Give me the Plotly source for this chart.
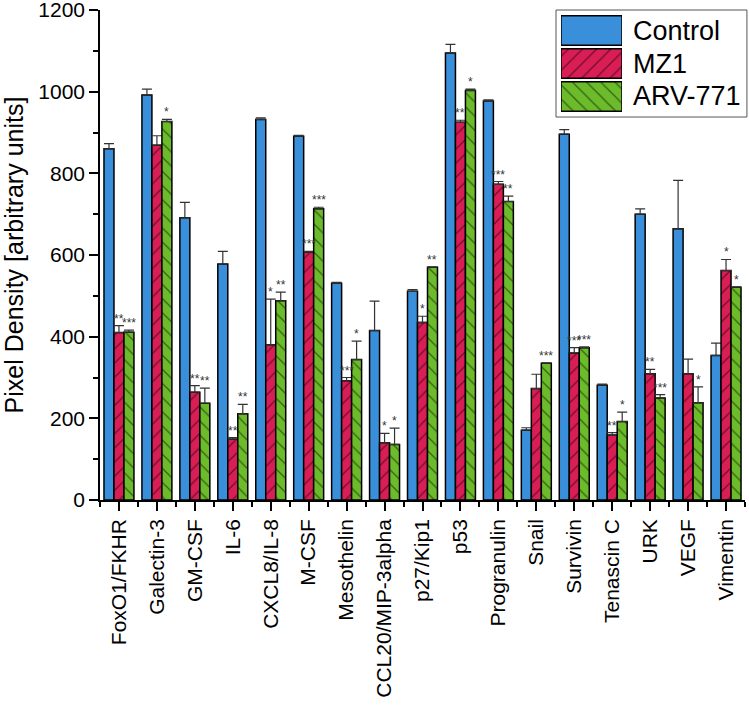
import plotly.graph_objects as go

categories = ["FoxO1/FKHR", "Galectin-3", "GM-CSF", "IL-6", "CXCL8/IL-8", "M-CSF",
              "Mesothelin", "CCL20/MIP-3alpha", "p27/Kip1", "p53", "Progranulin",
              "Snail", "Survivin", "Tenascin C", "URK", "VEGF", "Vimentin"]

control = [860, 992, 691, 578, 932, 891, 531, 415, 511, 1095, 977, 171, 896, 281, 700, 664, 354]
control_err = [13, 14, 38, 31, 4, 2, 2, 72, 4, 21, 3, 6, 11, 3, 13, 119, 30]

mz1 = [410, 869, 264, 149, 380, 607, 292, 140, 435, 925, 773, 273, 360, 159, 309, 309, 562]
mz1_err = [17, 23, 16, 4, 112, 2, 8, 23, 15, 5, 7, 35, 13, 6, 11, 36, 27]
mz1_sig = ["**", "", "**", "**", "*", "***", "***", "*", "*", "**", "***", "", "***", "**", "**", "", "*"]

arv = [411, 927, 237, 211, 488, 713, 344, 136, 570, 1003, 731, 335, 373, 192, 250, 238, 521]
arv_err = [5, 5, 37, 23, 21, 4, 45, 40, 1, 3, 13, 1, 2, 23, 8, 39, 1]
arv_sig = ["***", "*", "**", "**", "**", "***", "*", "*", "**", "*", "**", "***", "***", "*", "***", "*", "*"]

series_names = ["Control", "MZ1", "ARV-771"]
colors = ["#3A8FDA", "#D91D55", "#6BBB2A"]
shapes_pat = ["", "/", "\\"]

FONT = "Liberation Sans, Arial, sans-serif"
n = len(categories)
xs = list(range(n))
BARGAP = 0.21
w = (1 - BARGAP) / 3

fig = go.Figure()
data = [(control, control_err), (mz1, mz1_err), (arv, arv_err)]
for k, (vals, errs) in enumerate(data):
    fig.add_trace(go.Bar(
        x=xs, y=vals, name=series_names[k], showlegend=False,
        marker=dict(color=colors[k], line=dict(color="black", width=1.5),
                    pattern=dict(shape=shapes_pat[k], fgcolor="black", bgcolor=colors[k],
                                 size=10, solidity=0.12)),
        error_y=dict(type="data", symmetric=False, array=errs, arrayminus=[0] * n,
                     color="#333333", thickness=1.2, width=5),
    ))

annotations = []
for k, (vals, errs, sigs) in enumerate([(mz1, mz1_err, mz1_sig), (arv, arv_err, arv_sig)]):
    off = w * (k + 1) - w
    for i in range(n):
        if sigs[i]:
            annotations.append(dict(
                x=i + off, y=vals[i] + errs[i], xref="x", yref="y",
                text=sigs[i], showarrow=False, yanchor="bottom", yshift=-2,
                font=dict(family=FONT, size=12, color="#333333"),
            ))

# legend swatches drawn on an inset axis
for k in range(3):
    fig.add_trace(go.Bar(
        x=[1], y=[k], orientation="h", xaxis="x2", yaxis="y2", showlegend=False,
        width=0.9, offset=-0.45, hoverinfo="skip",
        marker=dict(color=colors[k], line=dict(color="black", width=1.5),
                    pattern=dict(shape=shapes_pat[k], fgcolor="black", bgcolor=colors[k],
                                 size=10, solidity=0.12)),
    ))
    annotations.append(dict(
        x=0.823, y=k, xref="paper", yref="y2", text=series_names[k], showarrow=False,
        xanchor="left", yanchor="middle", font=dict(family=FONT, size=27, color="black"),
    ))

fig.update_layout(
    width=749, height=708,
    margin=dict(l=100, r=4, t=10, b=208, autoexpand=False),
    paper_bgcolor="white", plot_bgcolor="white",
    barmode="group", bargap=BARGAP, bargroupgap=0,
    font=dict(family=FONT, color="black"),
    annotations=annotations,
    xaxis=dict(
        range=[-0.5, 16.5], tickmode="array", tickvals=xs, ticktext=categories,
        tickangle=-90, tickfont=dict(size=21, family=FONT), automargin=False,
        showline=True, linecolor="black", linewidth=1.5, ticks="outside",
        ticklen=9, tickwidth=1.5, tickcolor="black", showgrid=False, zeroline=False,
        minor=dict(tickmode="linear", tick0=0.5, dtick=1, ticklen=5, tickwidth=1.5,
                   tickcolor="black", ticks="outside", showgrid=False),
    ),
    yaxis=dict(
        range=[0, 1200], tickmode="array", tickvals=[0, 200, 400, 600, 800, 1000, 1200],
        ticktext=["0", "200", "400", "600", "800", "1000", "1200"],
        tickfont=dict(size=21, family=FONT), automargin=False, ticklabeloverflow="allow",
        title=dict(text="Pixel Density [arbitrary units]", font=dict(size=25, family=FONT),
                   standoff=18),
        showline=True, linecolor="black", linewidth=1.5, ticks="outside",
        ticklen=9, tickwidth=1.5, tickcolor="black", showgrid=False, zeroline=False,
        minor=dict(tickmode="linear", tick0=0, dtick=100, ticklen=5, tickwidth=1.5,
                   tickcolor="black", ticks="outside", showgrid=False),
    ),
    xaxis2=dict(domain=[0.7147, 0.8093], range=[0, 1], anchor="y2",
                visible=False, fixedrange=True),
    yaxis2=dict(domain=[0.7898, 0.9918], range=[2.5, -0.5], anchor="x2",
                visible=False, fixedrange=True),
    shapes=[dict(type="rect", xref="paper", yref="paper", x0=0.707, x1=1.003,
                 y0=0.7816, y1=1.0, line=dict(color="#555555", width=1),
                 fillcolor="rgba(0,0,0,0)", layer="below")],
)

fig.write_html(
    "out.html",
    config={"displayModeBar": False},
    post_script="document.body.style.margin='0';document.body.style.overflow='hidden';",
)
